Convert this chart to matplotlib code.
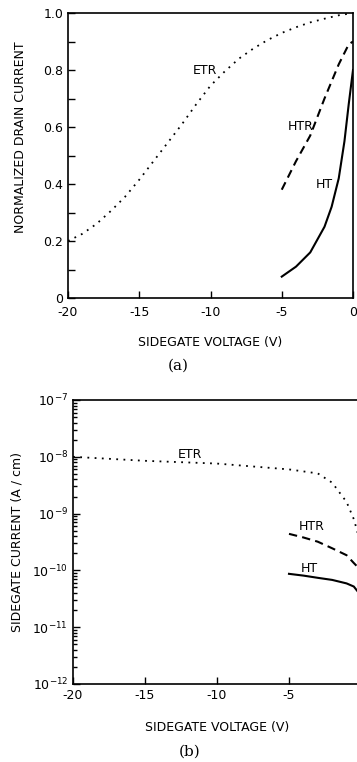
import matplotlib
matplotlib.use("Agg")
import matplotlib.pyplot as plt
import numpy as np

plt.rcParams['font.family'] = ['DejaVu Sans']

# ---- Panel (a) data ----
v_etr_a = [-20, -19, -18, -17, -16, -15, -14, -13, -12, -11, -10, -9, -8, -7, -6, -5, -4, -3, -2, -1, 0]
i_etr_a = [0.20, 0.225, 0.26, 0.305, 0.355, 0.415, 0.48, 0.545, 0.61, 0.68, 0.745, 0.795, 0.84, 0.875, 0.905, 0.93, 0.95, 0.967, 0.98, 0.992, 1.0]
v_htr_a = [-5, -4, -3, -2, -1, -0.3, 0]
i_htr_a = [0.38, 0.48, 0.57, 0.70, 0.82, 0.89, 0.90]
v_ht_a = [-5, -4, -3, -2, -1.5, -1, -0.6, -0.3, 0]
i_ht_a = [0.075, 0.11, 0.16, 0.25, 0.32, 0.42, 0.55, 0.68, 0.80]

# ---- Panel (b) data ----
v_etr_b = [-20, -15, -10, -5, -3, -2, -1, -0.5, -0.25, 0]
i_etr_b = [1.0e-8, 8.5e-9, 7.6e-9, 6.0e-9, 5.1e-9, 3.5e-9, 1.6e-9, 8.0e-10, 4.8e-10, 1.4e-10]
v_htr_b = [-5, -4, -3, -2, -1, -0.5, 0]
i_htr_b = [4.4e-10, 3.8e-10, 3.2e-10, 2.45e-10, 1.85e-10, 1.35e-10, 1.0e-10]
v_ht_b = [-5, -4, -3, -2, -1, -0.5, 0]
i_ht_b = [8.7e-11, 8.1e-11, 7.4e-11, 6.8e-11, 5.9e-11, 5.2e-11, 3.6e-11]

xticks = [-20, -15, -10, -5, 0]
xticklabels = ['-20', '-15', '-10', '-5', '0']
yticks_a = [0, 0.2, 0.4, 0.6, 0.8, 1.0]
yticklabels_a = ['0', '0.2', '0.4', '0.6', '0.8', '1.0']

fig = plt.figure(figsize=(3.57, 7.62), dpi=100)

dot = (0, (1, 3))
dash = (0, (4, 2.5))
fs = 9

def style(ax):
    for s in ax.spines.values():
        s.set_linewidth(1.2)
    ax.tick_params(which='both', direction='in', top=False, right=False,
                   labelsize=fs, width=1.0)
    ax.tick_params(which='major', length=5)
    ax.tick_params(which='minor', length=3)

# Panel (a)
ax1 = fig.add_axes([68/357, 1-298/762, 285/357, 285/762])
ax1.plot(v_etr_a, i_etr_a, color='black', linestyle=dot, lw=1.3)
ax1.plot(v_htr_a, i_htr_a, color='black', linestyle=dash, lw=1.5)
ax1.plot(v_ht_a, i_ht_a, color='black', linestyle='-', lw=1.5)
ax1.set_xlim(-20, 0)
ax1.set_ylim(0, 1.0)
ax1.set_xticks(xticks)
ax1.set_xticklabels(xticklabels)
ax1.set_yticks(yticks_a)
ax1.set_yticklabels(yticklabels_a)
ax1.set_yticks([0.1, 0.3, 0.5, 0.7, 0.9], minor=True)
style(ax1)
ax1.tick_params(which='minor', length=5)
ax1.tick_params(axis='x', pad=6)
ax1.set_xlabel('SIDEGATE VOLTAGE (V)', fontsize=fs, labelpad=12)
ax1.set_ylabel('NORMALIZED DRAIN CURRENT', fontsize=fs)
ax1.yaxis.set_label_coords(-41/285, 161/285)
ax1.text(-10.4, 0.80, 'ETR', fontsize=fs, ha='center', va='center')
ax1.text(-3.7, 0.60, 'HTR', fontsize=fs, ha='center', va='center')
ax1.text(-2.0, 0.40, 'HT', fontsize=fs, ha='center', va='center')
fig.text(178/357, 1-366/762, '(a)', fontsize=11, family='DejaVu Serif',
         ha='center', va='center')

# Panel (b)
ax2 = fig.add_axes([73/357, 1-684/762, 288/357, 284/762])
ax2.plot(v_etr_b, i_etr_b, color='black', linestyle=dot, lw=1.3)
ax2.plot(v_htr_b, i_htr_b, color='black', linestyle=dash, lw=1.5)
ax2.plot(v_ht_b, i_ht_b, color='black', linestyle='-', lw=1.5)
ax2.set_yscale('log')
ax2.set_xlim(-20, 0)
ax2.set_ylim(1e-12, 1e-7)
ax2.set_xticks(xticks)
ax2.set_xticklabels(xticklabels)
ax2.set_yticks([1e-12, 1e-11, 1e-10, 1e-9, 1e-8, 1e-7])
ax2.set_yticklabels([r'$10^{-12}$', r'$10^{-11}$', r'$10^{-10}$',
                     r'$10^{-9}$', r'$10^{-8}$', r'$10^{-7}$'])
style(ax2)
ax2.set_xlabel('SIDEGATE VOLTAGE (V)', fontsize=fs, labelpad=14)
ax2.set_ylabel('SIDEGATE CURRENT (A / cm)', fontsize=fs, labelpad=6)
ax2.text(-11.9, 1.1e-8, 'ETR', fontsize=fs, ha='center', va='center')
ax2.text(-3.4, 6.0e-10, 'HTR', fontsize=fs, ha='center', va='center')
ax2.text(-3.6, 1.1e-10, 'HT', fontsize=fs, ha='center', va='center')
fig.text(190/357, 1-752/762, '(b)', fontsize=11, family='DejaVu Serif',
         ha='center', va='center')

fig.savefig('out.png', dpi=100)
